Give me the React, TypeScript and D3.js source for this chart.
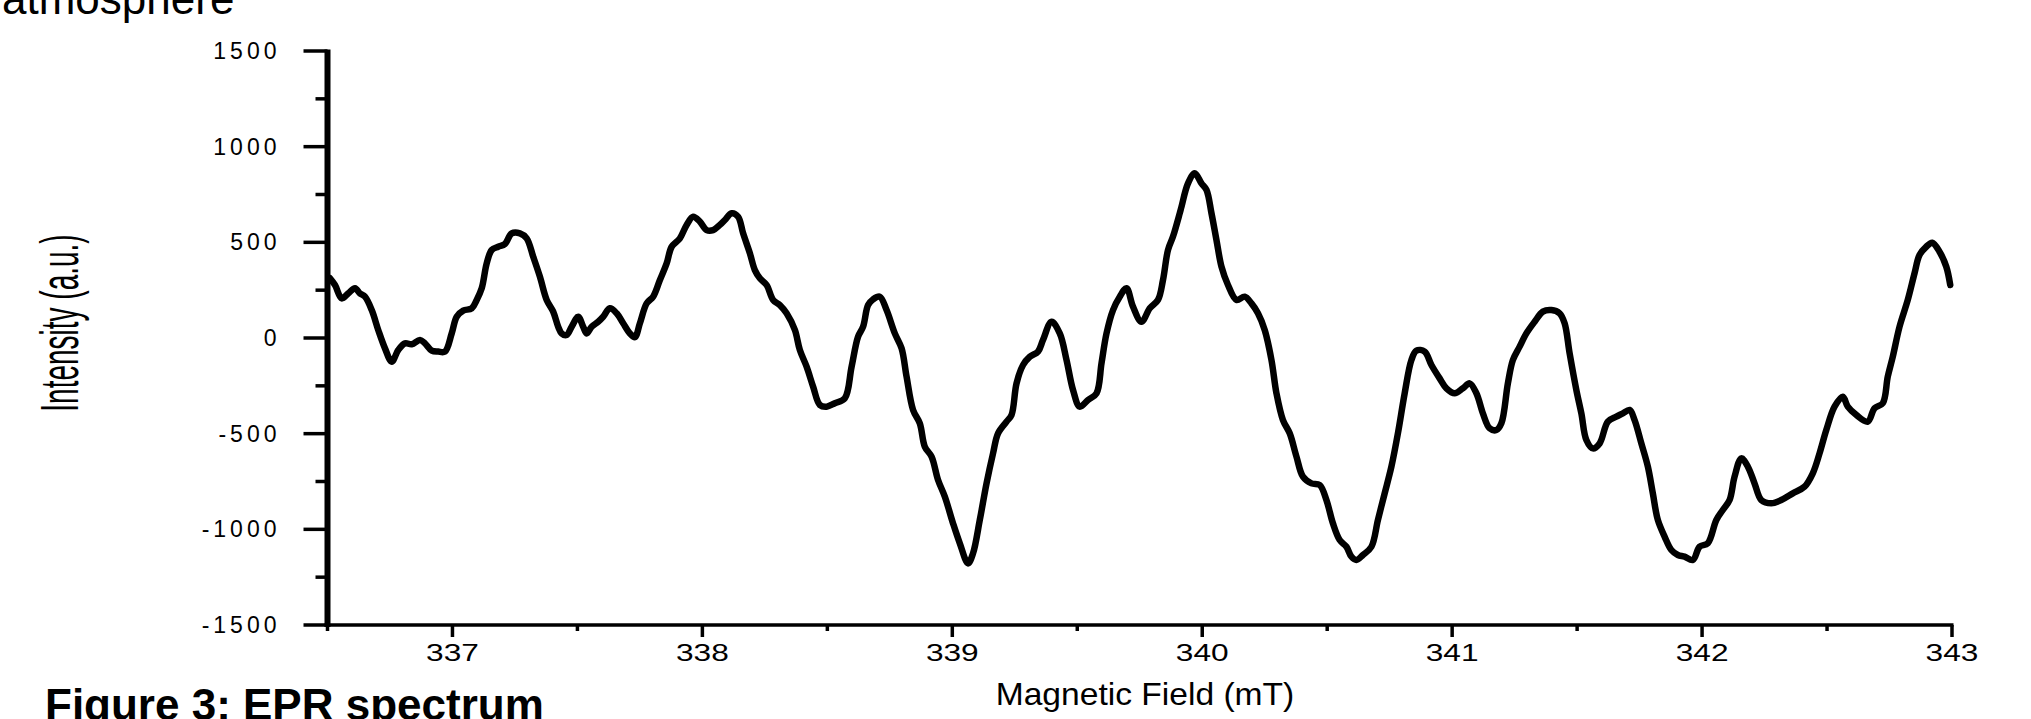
import React from 'react';
import * as d3 from 'd3';

// magnetic field (mT) and intensity (a.u.)
const field = [
  336.51, 336.53, 336.557, 336.583, 336.61, 336.63, 336.65, 336.677, 336.703, 336.73,
  336.757, 336.783, 336.81, 336.837, 336.87, 336.89, 336.917, 336.943, 336.97, 336.997,
  337.017, 337.043, 337.077, 337.097, 337.117, 337.137, 337.157, 337.183, 337.21, 337.237,
  337.27, 337.297, 337.323, 337.35, 337.377, 337.403, 337.423, 337.437, 337.457, 337.477,
  337.503, 337.523, 337.537, 337.557, 337.583, 337.603, 337.63, 337.657, 337.683, 337.71,
  337.73, 337.75, 337.777, 337.803, 337.83, 337.857, 337.877, 337.91, 337.937, 337.963,
  337.99, 338.017, 338.043, 338.07, 338.09, 338.117, 338.143, 338.163, 338.19, 338.21,
  338.23, 338.257, 338.283, 338.31, 338.337, 338.37, 338.39, 338.417, 338.443, 338.47,
  338.497, 338.53, 338.57, 338.597, 338.623, 338.643, 338.663, 338.683, 338.71, 338.737,
  338.77, 338.797, 338.817, 338.843, 338.87, 338.89, 338.917, 338.943, 338.97, 339.003,
  339.03, 339.063, 339.083, 339.11, 339.137, 339.163, 339.183, 339.217, 339.237, 339.257,
  339.283, 339.31, 339.343, 339.363, 339.397, 339.43, 339.457, 339.483, 339.51, 339.543,
  339.577, 339.597, 339.617, 339.643, 339.67, 339.697, 339.723, 339.757, 339.79, 339.823,
  339.843, 339.863, 339.883, 339.91, 339.917, 339.943, 339.97, 339.997, 340.017, 340.037,
  340.057, 340.077, 340.103, 340.137, 340.17, 340.197, 340.223, 340.25, 340.277, 340.297,
  340.323, 340.35, 340.377, 340.403, 340.437, 340.47, 340.497, 340.523, 340.55, 340.577,
  340.597, 340.617, 340.643, 340.677, 340.703, 340.73, 340.757, 340.783, 340.81, 340.837,
  340.857, 340.89, 340.917, 340.95, 340.977, 341.01, 341.043, 341.07, 341.097, 341.123,
  341.15, 341.177, 341.197, 341.223, 341.243, 341.27, 341.297, 341.33, 341.363, 341.397,
  341.43, 341.45, 341.47, 341.497, 341.517, 341.537, 341.563, 341.59, 341.623, 341.657,
  341.683, 341.71, 341.73, 341.757, 341.783, 341.803, 341.823, 341.85, 341.877, 341.903,
  341.93, 341.963, 341.99, 342.023, 342.057, 342.083, 342.11, 342.13, 342.157, 342.183,
  342.21, 342.237, 342.277, 342.317, 342.363, 342.41, 342.443, 342.47, 342.497, 342.53,
  342.563, 342.583, 342.617, 342.663, 342.69, 342.723, 342.743, 342.763, 342.79, 342.823,
  342.85, 342.87, 342.897, 342.921, 342.95, 342.977, 342.993,
];
const intensity = [
  312, 277, 207, 233, 260, 233, 216, 146, 42, -54,
  -124, -63, -28, -33, -10, -28, -66, -71, -71, 24,
  111, 143, 155, 199, 260, 390, 460, 477, 491, 547,
  547, 521, 425, 320, 199, 138, 59, 24, 16, 59,
  111, 59, 24, 59, 85, 111, 155, 129, 77, 24,
  4, 77, 181, 216, 303, 390, 477, 521, 591, 634,
  608, 564, 564, 591, 617, 652, 634, 547, 443, 355,
  312, 277, 199, 172, 129, 42, -63, -150, -254, -350,
  -359, -341, -315, -150, 7, 59, 172, 202, 216, 146,
  24, -54, -202, -376, -446, -568, -620, -742, -829, -969,
  -1073, -1178, -1125, -951, -760, -603, -498, -437, -402, -237,
  -141, -98, -71, -10, 85, 24, -115, -272, -359, -324,
  -289, -132, 24, 146, 216, 260, 164, 85, 155, 199,
  303, 460, 530, 652, 686, 808, 861, 808, 774, 652,
  512, 373, 277, 199, 216, 181, 129, 42, -115, -289,
  -429, -498, -620, -725, -760, -768, -847, -969, -1056, -1091,
  -1143, -1160, -1134, -1091, -951, -812, -672, -498, -289, -115,
  -66, -71, -141, -211, -263, -289, -263, -237, -289, -394,
  -472, -481, -446, -237, -115, -45, 24, 85, 138, 146,
  129, 77, -80, -272, -394, -533, -577, -551, -437, -411,
  -394, -376, -429, -551, -672, -812, -951, -1038, -1108, -1134,
  -1143, -1160, -1091, -1073, -951, -899, -847, -725, -629, -672,
  -760, -847, -864, -847, -812, -777, -707, -603, -481, -359,
  -307, -359, -402, -437, -367, -341, -202, -98, 59, 199,
  338, 434, 477, 498, 451, 373, 277,
];

const xMajorTicks = [337, 338, 339, 340, 341, 342, 343];
const xMinorTicks = [336.5, 337.5, 338.5, 339.5, 340.5, 341.5, 342.5];
const yMajorTicks = [-1500, -1000, -500, 0, 500, 1000, 1500];
const yMinorTicks = [-1250, -750, -250, 250, 750, 1250];

const W = 2031;
const H = 719;
const FONT = "'Liberation Sans', Arial, sans-serif";

export default function App() {
  const x = d3.scaleLinear().domain([336.5, 343]).range([327.5, 1952]);
  const y = d3.scaleLinear().domain([-1500, 1500]).range([625, 51]);

  const pts: [number, number][] = field.map((f, i) => [f, intensity[i]]);
  const line = d3
    .line<[number, number]>()
    .x((d) => x(d[0]))
    .y((d) => y(d[1]))
    .curve(d3.curveCatmullRom.alpha(0.5));

  const x0 = x.range()[0];
  const yBase = y(-1500);

  return (
    <svg
      width={W}
      height={H}
      style={{ position: 'absolute', left: 0, top: 0, background: '#fff' }}
    >
      <rect width={W} height={H} fill="#fff" />

      {/* text of the page around the figure, cut by the frame */}
      <text x={2} y={14} fontFamily={FONT} fontSize={44} fill="#000">
        atmosphere
      </text>
      <text x={45} y={720} fontFamily={FONT} fontSize={44} fontWeight="bold" fill="#000">
        Figure 3: EPR spectrum
      </text>

      {/* trace */}
      <path
        d={line(pts) || ''}
        fill="none"
        stroke="#000"
        strokeWidth={6.5}
        strokeLinejoin="round"
        strokeLinecap="round"
      />

      {/* y axis */}
      <line x1={x0} x2={x0} y1={y(1500) - 1.5} y2={yBase + 2} stroke="#000" strokeWidth={6} />
      {yMajorTicks.map((t) => (
        <line key={'ym' + t} x1={x0 - 24} x2={x0} y1={y(t)} y2={y(t)} stroke="#000" strokeWidth={3.5} />
      ))}
      {yMinorTicks.map((t) => (
        <line key={'yn' + t} x1={x0 - 12} x2={x0} y1={y(t)} y2={y(t)} stroke="#000" strokeWidth={3.5} />
      ))}
      {yMajorTicks.map((t) => (
        <text
          key={'yl' + t}
          x={x0 - 47}
          y={y(t) + 8}
          textAnchor="end"
          fontFamily={FONT}
          fontSize={23}
          letterSpacing={4}
          fill="#000"
        >
          {t < 0 ? '-' + Math.abs(t) : t}
        </text>
      ))}
      <text
        transform={`translate(78,323) scale(1.9,1) rotate(-90)`}
        textAnchor="middle"
        fontFamily={FONT}
        fontSize={28}
        fill="#000"
      >
        Intensity (a.u.)
      </text>

      {/* x axis */}
      <line x1={x0 - 3} x2={x(343) + 1.5} y1={yBase} y2={yBase} stroke="#000" strokeWidth={3.5} />
      {xMajorTicks.map((t) => (
        <line key={'xm' + t} x1={x(t)} x2={x(t)} y1={yBase} y2={yBase + 12} stroke="#000" strokeWidth={3.5} />
      ))}
      {xMinorTicks.map((t) => (
        <line key={'xn' + t} x1={x(t)} x2={x(t)} y1={yBase} y2={yBase + 6} stroke="#000" strokeWidth={3.5} />
      ))}
      {xMajorTicks.map((t) => (
        <text
          key={'xl' + t}
          transform={`translate(${x(t)},${yBase + 36}) scale(1.32,1)`}
          textAnchor="middle"
          fontFamily={FONT}
          fontSize={24}
          fill="#000"
        >
          {t}
        </text>
      ))}
      <text
        transform={`translate(1145,705) scale(1.05,1)`}
        textAnchor="middle"
        fontFamily={FONT}
        fontSize={32}
        fill="#000"
      >
        Magnetic Field (mT)
      </text>
    </svg>
  );
}
